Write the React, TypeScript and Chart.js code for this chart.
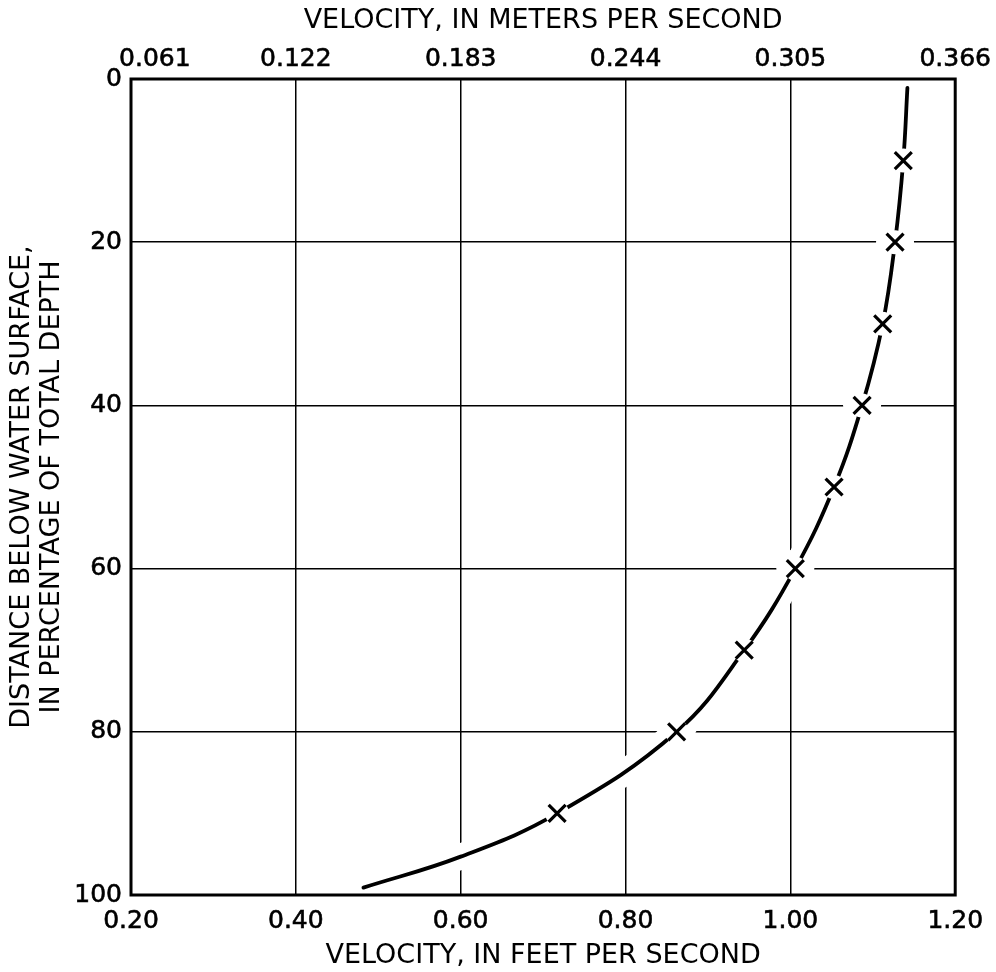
import React, { useEffect, useRef } from 'react';
import { Chart, registerables } from 'chart.js';

Chart.register(...registerables);

// Observed points (percentage of depth vs. velocity in ft/s)
const depthPct = [10, 20, 30, 40, 50, 60, 70, 80, 90];
const velocityFt = [1.137, 1.127, 1.112, 1.087, 1.053, 1.006, 0.944, 0.862, 0.717];

// Smooth vertical-velocity curve drawn through the points
const curveDepth = [1.1, 10, 20, 30, 40, 50, 60, 70, 80, 90, 95.3, 99.1];
const curveVelocity = [1.142, 1.137, 1.127, 1.112, 1.087, 1.053, 1.006, 0.944, 0.862, 0.717, 0.6, 0.482];

// Axis ticks and labels
const ftTicks = [0.2, 0.4, 0.6, 0.8, 1.0, 1.2];
const ftLabels = ['0.20', '0.40', '0.60', '0.80', '1.00', '1.20'];
const meterLabels = ['0.061', '0.122', '0.183', '0.244', '0.305', '0.366'];
const depthTicks = [0, 20, 40, 60, 80, 100];
const depthLabels = ['0', '20', '40', '60', '80', '100'];

const bottomTitle = 'VELOCITY, IN FEET PER SECOND';
const topTitle = 'VELOCITY, IN METERS PER SECOND';
const leftTitle = ['DISTANCE BELOW WATER SURFACE,', 'IN PERCENTAGE OF TOTAL DEPTH'];

export default function App() {
  const ref = useRef<HTMLCanvasElement>(null);

  useEffect(() => {
    document.body.style.margin = '0';
    Chart.defaults.font.family = '"DejaVu Sans", sans-serif';
    Chart.defaults.color = '#000';

    const markers = depthPct.map((d, i) => ({ x: velocityFt[i], y: d }));
    const curve = curveDepth.map((d, i) => ({ x: curveVelocity[i], y: d }));

    const boxPlugin = {
      id: 'plotBox',
      afterDatasetsDraw(chart: any) {
        const { ctx, chartArea: a } = chart;
        ctx.save();
        ctx.strokeStyle = '#000';
        ctx.lineWidth = 3;
        ctx.strokeRect(a.left, a.top, a.right - a.left, a.bottom - a.top);
        ctx.restore();
      },
    };

    const tickFont = { size: 25 };

    const chart = new Chart(ref.current as HTMLCanvasElement, {
      type: 'scatter',
      data: {
        datasets: [
          {
            label: 'observed',
            data: markers,
            order: 0,
            pointStyle: 'crossRot',
            pointRadius: 12,
            borderColor: '#000',
            borderWidth: 3.2,
            showLine: false,
          },
          {
            label: 'gap',
            data: markers,
            order: 1,
            pointStyle: 'circle',
            pointRadius: 12,
            backgroundColor: '#fff',
            borderColor: '#fff',
            borderWidth: 0,
            showLine: false,
          },
          {
            label: 'curve',
            data: curve,
            order: 2,
            showLine: true,
            borderColor: '#000',
            borderWidth: 3.8,
            pointRadius: 0,
            tension: 0.4,
            borderCapStyle: 'round',
          },
          {
            label: 'curveHalo',
            data: curve,
            order: 3,
            showLine: true,
            borderColor: '#fff',
            borderWidth: 26,
            pointRadius: 0,
            tension: 0.4,
            borderCapStyle: 'round',
          },
          {
            label: 'markerHalo',
            data: markers,
            order: 4,
            pointStyle: 'circle',
            pointRadius: 19,
            backgroundColor: '#fff',
            borderColor: '#fff',
            borderWidth: 0,
            showLine: false,
          },
        ],
      } as any,
      options: {
        responsive: false,
        animation: false,
        devicePixelRatio: 1,
        layout: { padding: { left: 0, right: 39, top: 0, bottom: 0 } },
        plugins: { legend: { display: false }, tooltip: { enabled: false } },
        scales: {
          x: {
            type: 'linear',
            position: 'bottom',
            min: 0.2,
            max: 1.2,
            afterBuildTicks: (s: any) => {
              s.ticks = ftTicks.map((v) => ({ value: v }));
            },
            afterFit: (s: any) => {
              s.height = 77;
            },
            grid: { color: '#000', lineWidth: 1.5, drawTicks: false },
            border: { display: false },
            ticks: {
              color: '#000',
              font: tickFont,
              padding: 11,
              maxRotation: 0,
              autoSkip: false,
              textStrokeColor: '#000',
              textStrokeWidth: 0.6,
              callback: (_v: any, i: number) => ftLabels[i],
            },
            title: {
              display: true,
              text: bottomTitle,
              color: '#000',
              font: { size: 27 },
              padding: { top: 0, bottom: 0 },
            },
          },
          x2: {
            type: 'linear',
            position: 'top',
            min: 0.2,
            max: 1.2,
            afterBuildTicks: (s: any) => {
              s.ticks = ftTicks.map((v) => ({ value: v }));
            },
            afterFit: (s: any) => {
              s.height = 79;
            },
            grid: { display: false, drawTicks: false },
            border: { display: false },
            ticks: {
              color: '#000',
              font: tickFont,
              padding: 5,
              maxRotation: 0,
              autoSkip: false,
              textStrokeColor: '#000',
              textStrokeWidth: 0.6,
              callback: (_v: any, i: number) =>
                i === 0 ? '\u2007\u2007\u2007' + meterLabels[i] : meterLabels[i],
            },
            title: {
              display: true,
              text: topTitle,
              color: '#000',
              font: { size: 27 },
              padding: { top: 5, bottom: 0 },
            },
          },
          y: {
            type: 'linear',
            position: 'left',
            reverse: true,
            min: 0,
            max: 100,
            afterBuildTicks: (s: any) => {
              s.ticks = depthTicks.map((v) => ({ value: v }));
            },
            afterFit: (s: any) => {
              s.width = 131;
            },
            grid: { color: '#000', lineWidth: 1.5, drawTicks: false },
            border: { display: false },
            ticks: {
              color: '#000',
              font: tickFont,
              padding: 9,
              autoSkip: false,
              textStrokeColor: '#000',
              textStrokeWidth: 0.6,
              callback: (_v: any, i: number) => depthLabels[i],
            },
            title: {
              display: true,
              text: leftTitle,
              color: '#000',
              font: { size: 27, lineHeight: 1.1 },
              padding: { top: 7, bottom: 0 },
            },
          },
        },
      } as any,
      plugins: [boxPlugin],
    });

    return () => chart.destroy();
  }, []);

  return (
    <div style={{ width: 996, height: 972 }}>
      <canvas ref={ref} width={996} height={972} />
    </div>
  );
}
